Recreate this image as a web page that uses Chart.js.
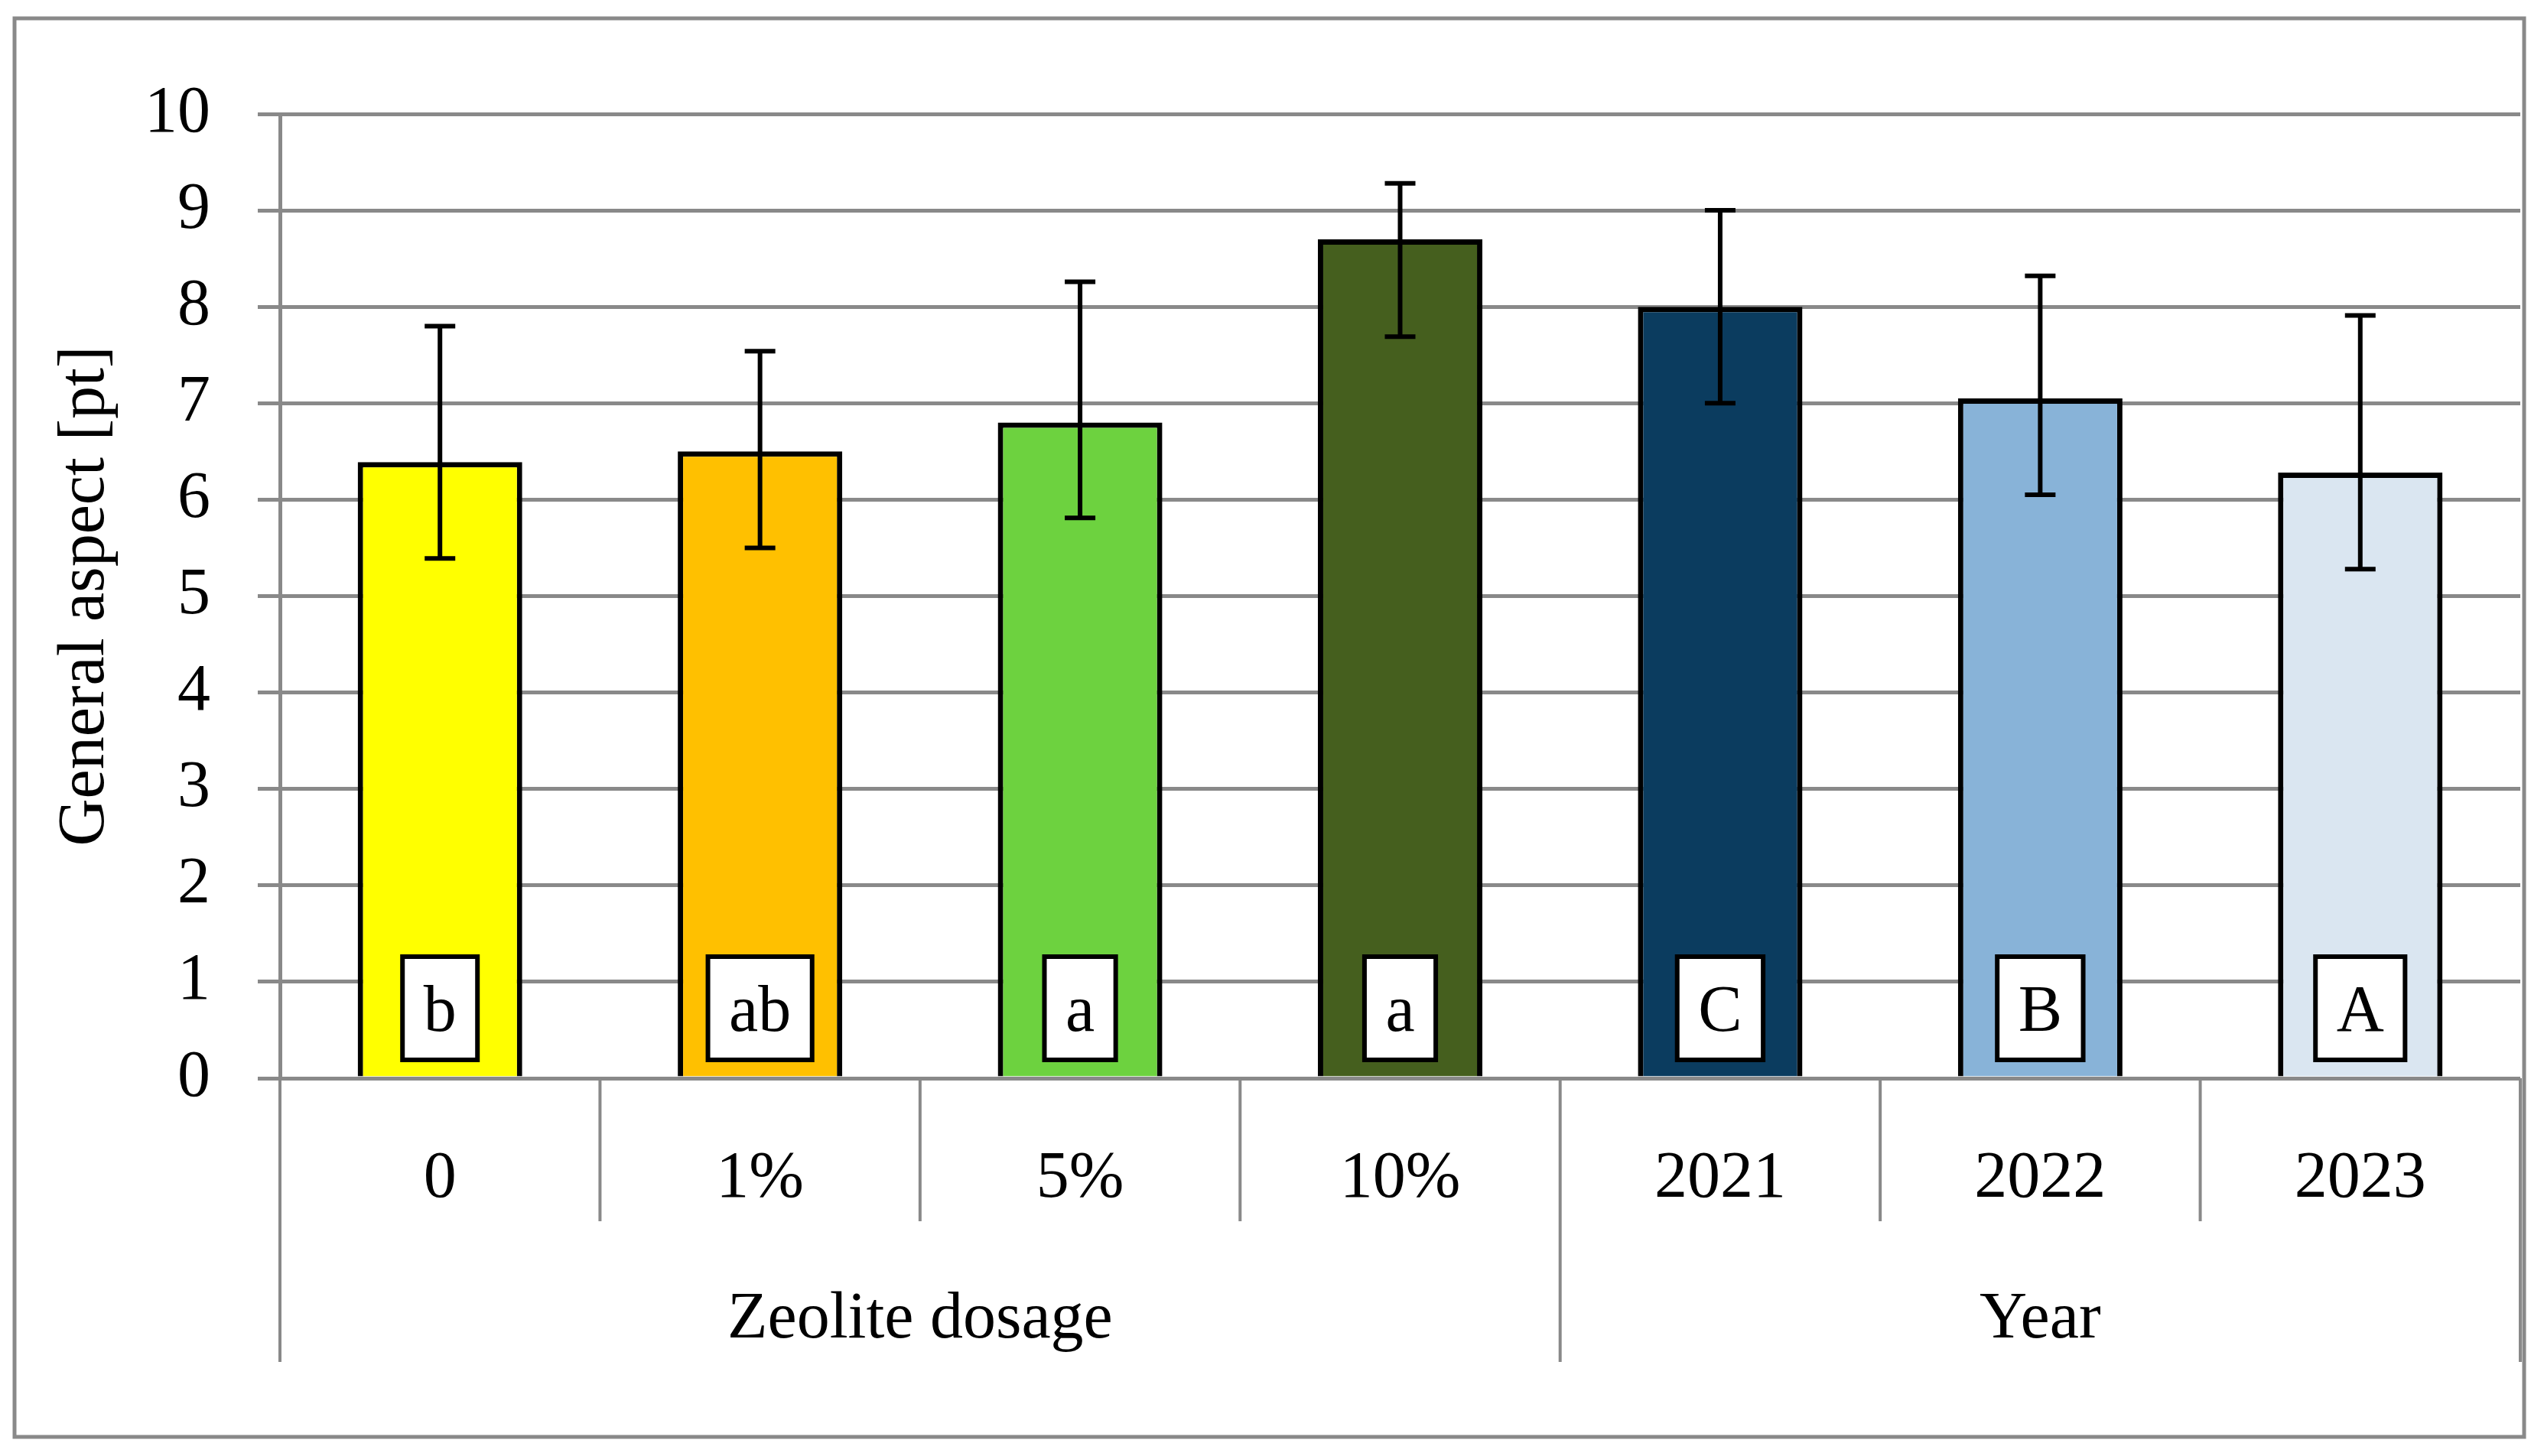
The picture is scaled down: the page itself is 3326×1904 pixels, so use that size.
<!DOCTYPE html>
<html>
<head>
<meta charset="utf-8">
<script src="https://cdn.jsdelivr.net/npm/chart.js@4.4.1/dist/chart.umd.min.js"></script>
<style>
  html, body { margin: 0; padding: 0; background: #fff; }
</style>
</head>
<body>
<canvas id="chart" width="3326" height="1904"></canvas>
<script>
// Chart values
const categories = ['0', '1%', '5%', '10%', '2021', '2022', '2023'];
const means      = [6.39, 6.50, 6.80, 8.70, 8.00, 7.05, 6.28];
const errUp      = [1.41, 1.04, 1.46, 0.58, 1.00, 1.27, 1.63];
const errDown    = [1.00, 1.00, 0.99, 1.01, 1.00, 1.00, 1.00];
const letters    = ['b', 'ab', 'a', 'a', 'C', 'B', 'A'];
const barColors  = ['#FFFF00', '#FFC000', '#6DD23F', '#455F1E', '#0B3C5F', '#88B3D8', '#DAE6F1'];
const groupNames = ['Zeolite dosage', 'Year'];
const groupFirst = [0, 4];   // first category index of each group
const groupLast  = [3, 6];   // last category index of each group

const FONT = '"Liberation Serif", "Times New Roman", serif';
const FS = 86;
const GRID = '#898989';

// extra drawing: frame, error bars, letter boxes, category dividers, group labels
const extras = {
    id: 'extras',
    beforeDraw(chart) {
        const ctx = chart.ctx;
        ctx.save();
        ctx.fillStyle = '#fff';
        ctx.fillRect(0, 0, chart.width, chart.height);
        ctx.strokeStyle = GRID;
        ctx.lineWidth = 5;
        ctx.strokeRect(19, 24, 3281, 1855);
        ctx.restore();
    },
    afterDatasetsDraw(chart) {
        const ctx = chart.ctx;
        const y = chart.scales.y;
        const meta = chart.getDatasetMeta(0);
        ctx.save();
        // error bars
        ctx.strokeStyle = '#000';
        ctx.lineWidth = 6;
        meta.data.forEach((bar, i) => {
            const top = y.getPixelForValue(means[i] + errUp[i]);
            const bot = y.getPixelForValue(means[i] - errDown[i]);
            ctx.beginPath();
            ctx.moveTo(bar.x, top); ctx.lineTo(bar.x, bot);
            ctx.moveTo(bar.x - 20, top); ctx.lineTo(bar.x + 20, top);
            ctx.moveTo(bar.x - 20, bot); ctx.lineTo(bar.x + 20, bot);
            ctx.stroke();
        });
        // letter boxes near the bottom of each bar
        ctx.font = FS + 'px ' + FONT;
        ctx.textAlign = 'center';
        ctx.textBaseline = 'alphabetic';
        const zero = y.getPixelForValue(0);
        meta.data.forEach((bar, i) => {
            const w = ctx.measureText(letters[i]).width + 55;
            const h = 135;
            const bottom = zero - 24;
            ctx.fillStyle = '#fff';
            ctx.fillRect(bar.x - w / 2, bottom - h, w, h);
            ctx.lineWidth = 6;
            ctx.strokeStyle = '#000';
            ctx.strokeRect(bar.x - w / 2, bottom - h, w, h);
            ctx.fillStyle = '#000';
            ctx.fillText(letters[i], bar.x, bottom - 38);
        });
        ctx.restore();
    },
    afterDraw(chart) {
        const ctx = chart.ctx;
        const x = chart.scales.x;
        const area = chart.chartArea;
        ctx.save();
        ctx.strokeStyle = GRID;
        ctx.lineWidth = 4;
        const longEdges = [groupFirst[0]].concat(groupLast.map(v => v + 1));
        for (let i = 0; i <= categories.length; i++) {
            const px = x.getPixelForValue(i - 0.5);
            const len = longEdges.includes(i) ? 371 : 187;
            ctx.beginPath();
            ctx.moveTo(px, area.bottom);
            ctx.lineTo(px, area.bottom + len);
            ctx.stroke();
        }
        // group labels
        ctx.font = FS + 'px ' + FONT;
        ctx.fillStyle = '#000';
        ctx.textAlign = 'center';
        ctx.textBaseline = 'alphabetic';
        groupNames.forEach((name, g) => {
            const cx = (x.getPixelForValue(groupFirst[g] - 0.5) + x.getPixelForValue(groupLast[g] + 0.5)) / 2;
            ctx.fillText(name, cx, area.bottom + 339);
        });
        ctx.restore();
    }
};

const chart = new Chart(document.getElementById('chart'), {
    type: 'bar',
    data: {
        labels: categories,
        datasets: [{
            data: means,
            backgroundColor: barColors,
            borderColor: '#000',
            borderWidth: 7,
            barPercentage: 0.514,
            categoryPercentage: 1.0
        }]
    },
    options: {
        responsive: false,
        devicePixelRatio: 1,
        animation: false,
        layout: { padding: { top: 149, right: 31, bottom: 0, left: 0 } },
        plugins: {
            legend: { display: false },
            tooltip: { enabled: false }
        },
        scales: {
            x: {
                offset: true,
                grid: { display: false },
                border: { display: false },
                ticks: {
                    font: { family: FONT, size: FS },
                    color: '#000',
                    padding: 73,
                    maxRotation: 0
                },
                afterFit(scale) { scale.height = 494; }
            },
            y: {
                min: 0,
                max: 10,
                ticks: {
                    stepSize: 1,
                    font: { family: FONT, size: FS },
                    color: '#000',
                    padding: 62
                },
                grid: { color: GRID, lineWidth: 5, tickLength: 29 },
                border: { display: true, color: GRID, width: 5 },
                title: {
                    display: true,
                    text: 'General aspect [pt]',
                    font: { family: FONT, size: FS },
                    color: '#000',
                    padding: { top: 61, bottom: 0 }
                },
                afterFit(scale) { scale.width = 366; }
            }
        }
    },
    plugins: [extras]
});
</script>
</body>
</html>
